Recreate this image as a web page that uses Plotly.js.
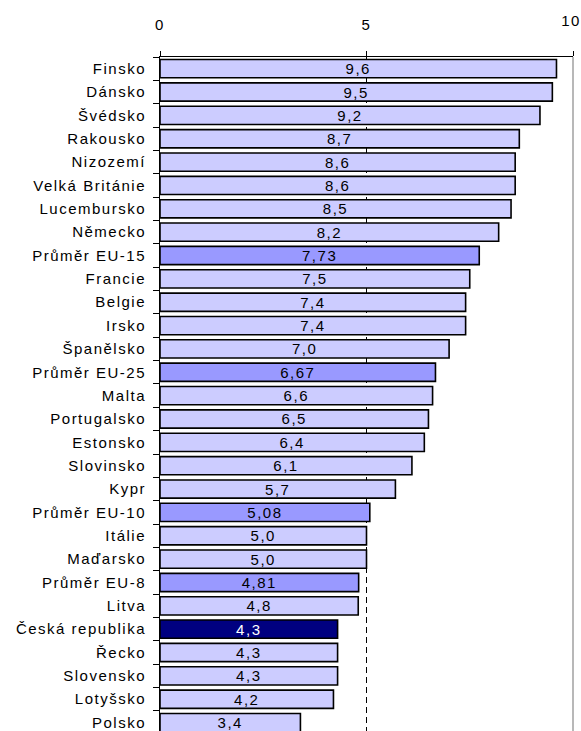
<!DOCTYPE html>
<html>
<head>
<meta charset="utf-8">
<script src="https://cdn.plot.ly/plotly-3.0.1.min.js"></script>
<style>
html,body{margin:0;padding:0;background:#fff;overflow:hidden}
#chart text{letter-spacing:1.5px}
</style>
</head>
<body>
<div id="chart" style="width:581px;height:731px"></div>
<script>
const countries = ["Finsko","Dánsko","Švédsko","Rakousko","Nizozemí","Velká Británie","Lucembursko","Německo","Průměr EU-15","Francie","Belgie","Irsko","Španělsko","Průměr EU-25","Malta","Portugalsko","Estonsko","Slovinsko","Kypr","Průměr EU-10","Itálie","Maďarsko","Průměr EU-8","Litva","Česká republika","Řecko","Slovensko","Lotyšsko","Polsko"];
const values = [9.6,9.5,9.2,8.7,8.6,8.6,8.5,8.2,7.73,7.5,7.4,7.4,7.0,6.67,6.6,6.5,6.4,6.1,5.7,5.08,5.0,5.0,4.81,4.8,4.3,4.3,4.3,4.2,3.4];
const labels = ["9,6","9,5","9,2","8,7","8,6","8,6","8,5","8,2","7,73","7,5","7,4","7,4","7,0","6,67","6,6","6,5","6,4","6,1","5,7","5,08","5,0","5,0","4,81","4,8","4,3","4,3","4,3","4,2","3,4"];
const xTicks = [0,5,10];

const colors = countries.map(c => c === "Česká republika" ? "#000080" : (c.startsWith("Průměr") ? "#9999FF" : "#CCCCFF"));
const textColors = countries.map(c => c === "Česká republika" ? "#FFFFFF" : "#000000");

const trace = {
  type: "bar",
  orientation: "h",
  y: countries,
  x: values,
  text: labels,
  textposition: "inside",
  insidetextanchor: "middle",
  constraintext: "none",
  textfont: {family: "Liberation Sans, Arial, sans-serif", size: 15, color: textColors},
  marker: {color: colors, line: {color: "#000000", width: 1.6}},
  hoverinfo: "none",
  cliponaxis: true
};

// empty helper trace so the overlay axis (carrying the last tick label) is drawn
const helper = {type: "scatter", x: [], y: [], xaxis: "x2", yaxis: "y", hoverinfo: "none", showlegend: false};

const lastTick = xTicks[xTicks.length - 1];

const layout = {
  width: 581, height: 731,
  margin: {l: 160, r: 8, t: 57, b: 0, pad: 0},
  paper_bgcolor: "#FFFFFF",
  plot_bgcolor: "#FFFFFF",
  bargap: 0.22,
  showlegend: false,
  font: {family: "Liberation Sans, Arial, sans-serif", size: 15, color: "#000000"},
  xaxis: {
    side: "top",
    range: [0, lastTick],
    tickvals: xTicks,
    ticktext: xTicks.map(v => v === lastTick ? "" : String(v)),
    ticks: "outside",
    ticklen: 5,
    tickcolor: "#000000",
    showline: true,
    linecolor: "#000000",
    linewidth: 1,
    showgrid: true,
    gridcolor: "#000000",
    gridwidth: 1,
    griddash: "6px,4px",
    zeroline: false,
    ticklabelstandoff: 15,
    tickfont: {size: 15},
    fixedrange: true
  },
  xaxis2: {
    overlaying: "x",
    anchor: "y",
    side: "top",
    range: [0, lastTick],
    tickvals: [lastTick],
    ticktext: [String(lastTick)],
    ticks: "",
    showline: false,
    showgrid: false,
    zeroline: false,
    ticklabelstandoff: 27,
    ticklabelshift: -2,
    ticklabeloverflow: "allow",
    tickfont: {size: 15},
    fixedrange: true
  },
  yaxis: {
    type: "category",
    range: [28.36, -0.5],
    tickson: "boundaries",
    ticks: "outside",
    ticklen: 6,
    tickcolor: "#000000",
    showline: true,
    linecolor: "#000000",
    linewidth: 1,
    showgrid: false,
    zeroline: false,
    ticklabelstandoff: 10,
    tickfont: {size: 15},
    fixedrange: true
  },
  shapes: [
    {type: "line", xref: "paper", yref: "paper", x0: 1, x1: 1, y0: 0, y1: 1, line: {color: "#A0A0A0", width: 1.5}, layer: "above"}
  ]
};

Plotly.newPlot("chart", [trace, helper], layout, {displayModeBar: false, staticPlot: true});
</script>
</body>
</html>
